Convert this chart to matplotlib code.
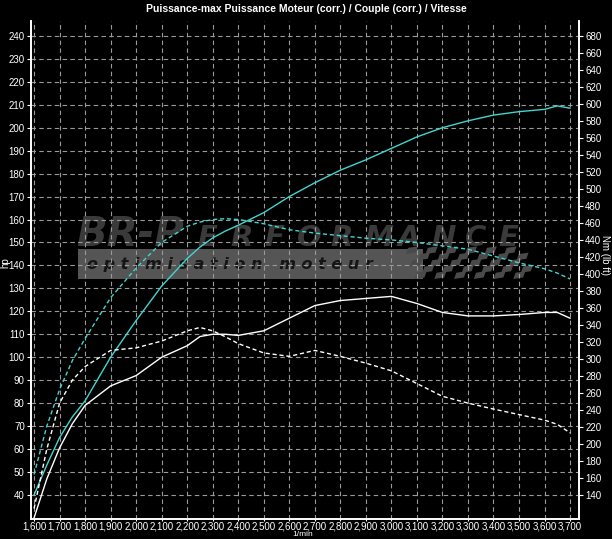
import matplotlib
matplotlib.use("Agg")
import matplotlib.pyplot as plt
from matplotlib.patches import Rectangle, Polygon
from matplotlib.ticker import FuncFormatter

# rpm grid shared by all curves
RPM = [1600, 1650, 1700, 1750, 1800, 1900, 2000, 2100, 2200, 2250, 2300, 2350,
       2400, 2500, 2600, 2700, 2800, 2900, 3000, 3100, 3200, 3300, 3400, 3500,
       3600, 3650, 3700]

# tuned power (hp, left axis) and torque (Nm, right axis)
POWER_TUNED = [40, 53, 65, 74, 81, 100, 116, 131, 143, 148, 152, 155,
               157.5, 163, 170, 176, 181.5, 186, 191, 196, 200, 203, 205.5, 207,
               208, 209.5, 208.5]
TORQUE_TUNED = [164, 221, 264, 298, 324, 372, 407, 437, 456, 461, 464, 465,
                464, 459, 452, 448, 445, 442, 440, 437, 433, 429, 421, 413,
                406, 401, 394]

# stock power (hp) and torque (Nm)
POWER_STOCK = [30, 47, 60.5, 71, 79, 87.5, 92, 100, 105, 109, 110, 110,
               109.5, 111.5, 117, 122.5, 124.7, 125.6, 126.5, 123.4, 119.5, 118, 118, 118.6,
               119.5, 119.5, 117]
TORQUE_STOCK = [124, 194, 248, 275, 291, 310, 313, 321, 333, 337, 333, 326,
                318, 307, 303, 310, 303, 295, 286, 271, 256, 248, 241, 234.5,
                228, 223, 213]

HP_TICKS = list(range(40, 250, 10))
NM_TICKS = list(range(140, 700, 20))

CYAN = "#3fd6d0"
GRID = "#9a9a9a"
FONT = ["Liberation Sans", "DejaVu Sans"]


def hp_to_nm(v):
    return 140 + (v - 40) * 2.7


def main() -> None:
    plt.rcParams.update({
        "font.family": FONT,
        "text.color": "white",
        "xtick.color": "white",
        "ytick.color": "white",
        "axes.edgecolor": "white",
    })
    fig = plt.figure(figsize=(6.12, 5.39), dpi=100, facecolor="black")
    ax = fig.add_axes([31 / 612, 20 / 539, 548 / 612, 498 / 539])
    ax.set_facecolor("black")
    ax2 = ax.twinx()

    x0, x1 = 1588, 3735
    y0, y1 = 29.5, 246.5
    ax.set_xlim(x0, x1)
    ax.set_ylim(y0, y1)
    ax2.set_ylim(hp_to_nm(y0), hp_to_nm(y1))

    ax.set_xticks(range(1600, 3800, 100))
    ax.xaxis.set_major_formatter(FuncFormatter(lambda v, p: f"{int(v):,}"))
    ax.set_yticks(HP_TICKS)
    ax2.set_yticks(NM_TICKS)
    for a in (ax, ax2):
        a.tick_params(labelsize=7, length=3, width=0.8, pad=1.5)
        for s in a.spines.values():
            s.set_color("white")
            s.set_linewidth(1.2)
    ax.tick_params(axis="x", length=1.5, pad=0.5)
    ax.spines["top"].set_visible(False)
    ax2.spines["top"].set_visible(False)

    ax.set_axisbelow(False)
    ax.grid(True, color=GRID, linestyle=(0, (4, 3)), linewidth=0.8, zorder=2.5)

    # watermark logo, under the grid
    logo = dict(transform=ax.transAxes, fontweight="bold", style="italic",
                color="#3a3a3a", family="DejaVu Sans", ha="left",
                va="baseline", zorder=1)
    ax.text(0.083, 0.548, "BR-P", fontsize=29, **logo)
    for k, ch in enumerate("ERFORMANCE"):
        ax.text(0.303 + k * 0.061, 0.548, ch, fontsize=21, **logo)
    ax.add_patch(Rectangle((0.085, 0.482), 0.63, 0.06, transform=ax.transAxes,
                           facecolor="#555555", edgecolor="none", zorder=0.9))
    ax.text(0.103, 0.511, "o p t i m i s a t i o n   m o t e u r",
            transform=ax.transAxes, fontsize=11.5, fontweight="bold",
            style="italic", color="#151515", family="DejaVu Sans",
            ha="left", va="center", zorder=1)
    cw, ch = 0.018, 0.0125
    for i in range(12):
        for j in range(5):
            if (i + j) % 2:
                continue
            xa = 0.70 + i * cw - j * 0.004
            ya = 0.482 + j * ch
            ax.add_patch(Polygon([(xa, ya), (xa + cw, ya + 0.003),
                                  (xa + cw + 0.004, ya + ch + 0.003), (xa + 0.004, ya + ch)],
                                 closed=True, transform=ax.transAxes,
                                 facecolor="#4a4a4a", edgecolor="none", zorder=0.9))

    ax.plot(RPM, POWER_TUNED, color=CYAN, lw=1.0, zorder=3)
    ax.plot(RPM, POWER_STOCK, color="white", lw=1.0, zorder=3)
    ax2.plot(RPM, TORQUE_TUNED, color=CYAN, lw=1.0, linestyle=(0, (3, 2)), zorder=3)
    ax2.plot(RPM, TORQUE_STOCK, color="white", lw=1.0, linestyle=(0, (3, 2)), zorder=3)

    fig.text(0.5, 0.984, "Puissance-max Puissance Moteur (corr.) / Couple (corr.) / Vitesse",
             ha="center", va="center", fontsize=7.5, fontweight="bold", color="white")
    fig.text(303 / 612, 1 - 535 / 539, "1/min", ha="center", va="center", fontsize=6)
    fig.text(5 / 612, 1 - 263 / 539, "hp", rotation=90, ha="center", va="center", fontsize=7)
    fig.text(605 / 612, 1 - 255 / 539, "Nm (lb ft)", rotation=270, ha="center",
             va="center", fontsize=7)

    fig.savefig("out.png", dpi=100, facecolor="black")


if __name__ == "__main__":
    main()
